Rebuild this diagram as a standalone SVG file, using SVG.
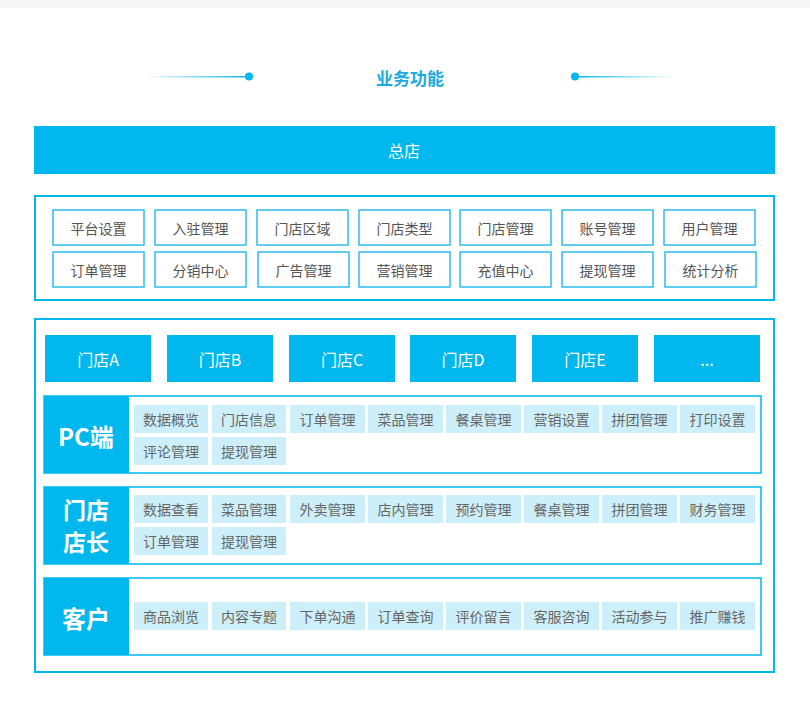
<svg xmlns="http://www.w3.org/2000/svg" width="810" height="723" viewBox="0 0 810 723">
<style>
text{font-family:"Noto Sans CJK SC","Liberation Sans",sans-serif;text-anchor:middle;dominant-baseline:central}
.b{fill:#fff;stroke:#2fbdee;stroke-width:1.5}
.bt{font-size:14px;fill:#555}
.s{fill:#00b7ee}
.st{font-size:16px;fill:#fff}
.c{fill:#cdeffa}
.ct{font-size:14px;fill:#666}
.fr{fill:#fff;stroke:#00b7ee;stroke-width:2}
.lt{font-size:24px;font-weight:bold;fill:#fff}
.lt2{font-size:23px;font-weight:bold;fill:#fff}
</style>
<defs>
<linearGradient id="gl" x1="0" x2="1"><stop offset="0" stop-color="#00b7ee" stop-opacity="0"/><stop offset="1" stop-color="#00b7ee"/></linearGradient>
<linearGradient id="gr" x1="1" x2="0"><stop offset="0" stop-color="#00b7ee" stop-opacity="0"/><stop offset="1" stop-color="#00b7ee"/></linearGradient>
</defs>
<rect width="810" height="723" fill="#fff"/>
<rect width="810" height="8" fill="#f6f6f6"/>
<g id="title">
<rect x="145" y="76" width="104" height="1.5" fill="url(#gl)"/><circle cx="249" cy="76.5" r="4" fill="#00b7ee"/>
<rect x="575" y="76" width="100" height="1.5" fill="url(#gr)"/><circle cx="575" cy="76.5" r="4" fill="#00b7ee"/>
<text x="410" y="77" style="font-size:17px;font-weight:bold;fill:#1aa9e0">业务功能</text>
</g>
<g id="hq"><rect x="34" y="126" width="741" height="48" class="s"/><text x="404" y="150" class="st">总店</text></g>
<g id="hqfuncs">
<rect x="35" y="196" width="739" height="104" class="fr"/>
<g id="r1">
<rect x="53" y="210" width="91" height="35" class="b"/><text x="98.5" y="228" class="bt">平台设置</text>
<rect x="155" y="210" width="91" height="35" class="b"/><text x="200.5" y="228" class="bt">入驻管理</text>
<rect x="257" y="210" width="91" height="35" class="b"/><text x="302.5" y="228" class="bt">门店区域</text>
<rect x="359" y="210" width="91" height="35" class="b"/><text x="404.5" y="228" class="bt">门店类型</text>
<rect x="460" y="210" width="91" height="35" class="b"/><text x="505.5" y="228" class="bt">门店管理</text>
<rect x="562" y="210" width="91" height="35" class="b"/><text x="607.5" y="228" class="bt">账号管理</text>
<rect x="664" y="210" width="91" height="35" class="b"/><text x="709.5" y="228" class="bt">用户管理</text>
</g>
<g id="r2">
<rect x="53" y="252" width="91" height="35" class="b"/><text x="98.5" y="270" class="bt">订单管理</text>
<rect x="155" y="252" width="91" height="35" class="b"/><text x="200.5" y="270" class="bt">分销中心</text>
<rect x="258" y="252" width="91" height="35" class="b"/><text x="303.5" y="270" class="bt">广告管理</text>
<rect x="359" y="252" width="91" height="35" class="b"/><text x="404.5" y="270" class="bt">营销管理</text>
<rect x="460" y="252" width="91" height="35" class="b"/><text x="505.5" y="270" class="bt">充值中心</text>
<rect x="562" y="252" width="91" height="35" class="b"/><text x="607.5" y="270" class="bt">提现管理</text>
<rect x="665" y="252" width="91" height="35" class="b"/><text x="710.5" y="270" class="bt">统计分析</text>
</g>
</g>
<rect x="35" y="319" width="739" height="353" class="fr"/>
<g id="stores">
<rect x="45" y="335" width="106" height="47" class="s"/><text x="98" y="359" class="st">门店A</text>
<rect x="167" y="335" width="106" height="47" class="s"/><text x="220" y="359" class="st">门店B</text>
<rect x="289" y="335" width="106" height="47" class="s"/><text x="342" y="359" class="st">门店C</text>
<rect x="410" y="335" width="106" height="47" class="s"/><text x="463" y="359" class="st">门店D</text>
<rect x="532" y="335" width="106" height="47" class="s"/><text x="585" y="359" class="st">门店E</text>
<rect x="654" y="335" width="106" height="47" class="s"/><text x="707" y="359" class="st">...</text>
</g>
<g id="pc">
<rect x="44" y="396" width="717" height="77" fill="#fff" stroke="#00b7ee" stroke-width="1.5"/>
<rect x="44" y="396" width="85" height="77" class="s"/><text x="86" y="435" class="lt">PC端</text>
<rect x="134" y="405" width="74" height="28" class="c"/><text x="171" y="419" class="ct">数据概览</text>
<rect x="212" y="405" width="74" height="28" class="c"/><text x="249" y="419" class="ct">门店信息</text>
<rect x="290" y="405" width="75" height="28" class="c"/><text x="327.5" y="419" class="ct">订单管理</text>
<rect x="368" y="405" width="75" height="28" class="c"/><text x="405.5" y="419" class="ct">菜品管理</text>
<rect x="446" y="405" width="75" height="28" class="c"/><text x="483.5" y="419" class="ct">餐桌管理</text>
<rect x="524" y="405" width="75" height="28" class="c"/><text x="561.5" y="419" class="ct">营销设置</text>
<rect x="602" y="405" width="75" height="28" class="c"/><text x="639.5" y="419" class="ct">拼团管理</text>
<rect x="680" y="405" width="75" height="28" class="c"/><text x="717.5" y="419" class="ct">打印设置</text>
<rect x="134" y="437" width="74" height="28" class="c"/><text x="171" y="451" class="ct">评论管理</text>
<rect x="212" y="437" width="74" height="28" class="c"/><text x="249" y="451" class="ct">提现管理</text>
</g>
<g id="mgr">
<rect x="44" y="487" width="717" height="77" fill="#fff" stroke="#00b7ee" stroke-width="1.5"/>
<rect x="44" y="487" width="85" height="77" class="s"/><text x="86" y="509" class="lt2">门店</text><text x="86" y="541" class="lt2">店长</text>
<rect x="134" y="495" width="74" height="28" class="c"/><text x="171" y="509" class="ct">数据查看</text>
<rect x="212" y="495" width="74" height="28" class="c"/><text x="249" y="509" class="ct">菜品管理</text>
<rect x="290" y="495" width="75" height="28" class="c"/><text x="327.5" y="509" class="ct">外卖管理</text>
<rect x="368" y="495" width="75" height="28" class="c"/><text x="405.5" y="509" class="ct">店内管理</text>
<rect x="446" y="495" width="75" height="28" class="c"/><text x="483.5" y="509" class="ct">预约管理</text>
<rect x="524" y="495" width="75" height="28" class="c"/><text x="561.5" y="509" class="ct">餐桌管理</text>
<rect x="602" y="495" width="75" height="28" class="c"/><text x="639.5" y="509" class="ct">拼团管理</text>
<rect x="680" y="495" width="75" height="28" class="c"/><text x="717.5" y="509" class="ct">财务管理</text>
<rect x="134" y="527" width="74" height="28" class="c"/><text x="171" y="541" class="ct">订单管理</text>
<rect x="212" y="527" width="74" height="28" class="c"/><text x="249" y="541" class="ct">提现管理</text>
</g>
<g id="cust">
<rect x="44" y="578" width="717" height="77" fill="#fff" stroke="#00b7ee" stroke-width="1.5"/>
<rect x="44" y="578" width="85" height="77" class="s"/><text x="86" y="617" class="lt">客户</text>
<rect x="134" y="602" width="74" height="28" class="c"/><text x="171" y="616" class="ct">商品浏览</text>
<rect x="212" y="602" width="74" height="28" class="c"/><text x="249" y="616" class="ct">内容专题</text>
<rect x="290" y="602" width="75" height="28" class="c"/><text x="327.5" y="616" class="ct">下单沟通</text>
<rect x="368" y="602" width="75" height="28" class="c"/><text x="405.5" y="616" class="ct">订单查询</text>
<rect x="446" y="602" width="75" height="28" class="c"/><text x="483.5" y="616" class="ct">评价留言</text>
<rect x="524" y="602" width="75" height="28" class="c"/><text x="561.5" y="616" class="ct">客服咨询</text>
<rect x="602" y="602" width="75" height="28" class="c"/><text x="639.5" y="616" class="ct">活动参与</text>
<rect x="680" y="602" width="75" height="28" class="c"/><text x="717.5" y="616" class="ct">推广赚钱</text>
</g>
<g id="connectors"/>
</svg>
